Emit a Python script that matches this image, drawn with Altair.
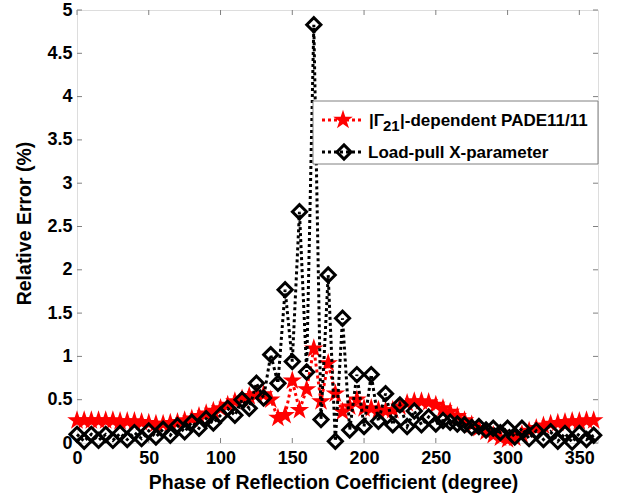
import altair as alt
import pandas as pd

# ---------------- data ----------------
phase = [0, 5, 10, 15, 20, 25, 30, 35, 40, 45, 50, 55, 60, 65, 70, 75, 80, 85, 90, 95,
         100, 105, 110, 115, 120, 125, 130, 135, 140, 145, 150, 155, 160, 165, 170, 175,
         180, 185, 190, 195, 200, 205, 210, 215, 220, 225, 230, 235, 240, 245, 250, 255,
         260, 265, 270, 275, 280, 285, 290, 295, 300, 305, 310, 315, 320, 325, 330, 335,
         340, 345, 350, 355, 360]

pade_err = [0.26, 0.26, 0.26, 0.26, 0.26, 0.26, 0.25, 0.25, 0.25, 0.24, 0.23, 0.22, 0.22,
            0.23, 0.24, 0.26, 0.28, 0.31, 0.34, 0.37, 0.40, 0.44, 0.48, 0.51, 0.54, 0.56,
            0.56, 0.50, 0.29, 0.32, 0.72, 0.38, 0.62, 1.09, 0.48, 0.92, 0.57, 0.36, 0.42,
            0.50, 0.40, 0.40, 0.38, 0.37, 0.38, 0.42, 0.46, 0.48, 0.48, 0.47, 0.44, 0.40,
            0.36, 0.31, 0.26, 0.21, 0.17, 0.13, 0.09, 0.06, 0.04, 0.06, 0.10, 0.14, 0.17,
            0.20, 0.22, 0.23, 0.24, 0.25, 0.25, 0.26, 0.26]

xparam_err = [0.10, 0.02, 0.10, 0.03, 0.10, 0.03, 0.11, 0.04, 0.12, 0.05, 0.14, 0.07, 0.16,
              0.09, 0.20, 0.13, 0.24, 0.17, 0.28, 0.23, 0.32, 0.40, 0.32, 0.50, 0.40, 0.69,
              0.52, 1.02, 0.69, 1.77, 0.94, 2.67, 0.82, 4.83, 0.27, 1.94, 0.02, 1.44, 0.15,
              0.79, 0.19, 0.79, 0.25, 0.57, 0.21, 0.44, 0.19, 0.37, 0.21, 0.30, 0.22, 0.26,
              0.24, 0.22, 0.21, 0.18, 0.19, 0.15, 0.17, 0.12, 0.17, 0.07, 0.17, 0.05, 0.14,
              0.04, 0.13, 0.02, 0.11, 0.01, 0.11, 0.04, 0.09]

x_ticks = [0, 50, 100, 150, 200, 250, 300, 350]
y_ticks = [0, 0.5, 1, 1.5, 2, 2.5, 3, 3.5, 4, 4.5, 5]

series_names = ["-dependent PADE11/11", "Load-pull X-parameter"]

# ---------------- style ----------------
FONT = "Liberation Sans"
GRAY = "#808080"
W, H = 521, 433
STAR = ("M0,-1L0.2245,-0.309L0.9511,-0.309L0.3633,0.118L0.5878,0.809L0,0.382"
        "L-0.5878,0.809L-0.3633,0.118L-0.9511,-0.309L-0.2245,-0.309Z")
STAR_SIZE = 420
DIA_SIZE = 200
DIA_SW = 3

df_pade = pd.DataFrame({"deg": phase, "val": pade_err})
df_xp = pd.DataFrame({"deg": phase, "val": xparam_err})
df_xt = pd.DataFrame({"deg": x_ticks})
df_yt = pd.DataFrame({"val": y_ticks})
one = pd.DataFrame({"k": [0]})

xs = alt.Scale(domain=[0, 363], nice=False, zero=False)
ys = alt.Scale(domain=[0, 5], nice=False, zero=False)

x_axis = alt.Axis(values=x_ticks, title="Phase of Reflection Coefficient (degree)",
                  ticks=False, domain=False, grid=False,
                  labelFont=FONT, labelFontSize=18, labelFontWeight="bold", labelColor="black",
                  labelPadding=20, labelBaseline="alphabetic", labelFlush=False,
                  labelOverlap=False,
                  titleFont=FONT, titleFontSize=19.5, titleFontWeight="bold", titleColor="black",
                  titleX=256, titleY=45, titleAlign="center", titleBaseline="alphabetic")
y_axis = alt.Axis(values=y_ticks, title="Relative Error (%)", format="~g",
                  ticks=False, domain=False, grid=False,
                  labelFont=FONT, labelFontSize=18, labelFontWeight="bold", labelColor="black",
                  labelPadding=5, labelFlush=False, labelOverlap=False,
                  titleFont=FONT, titleFontSize=19.5, titleFontWeight="bold", titleColor="black",
                  titleX=-53, titleY=213, titleAlign="center", titleBaseline="middle",
                  titleAngle=270)

X = alt.X("deg:Q", scale=xs, axis=x_axis)
Y = alt.Y("val:Q", scale=ys, axis=y_axis)

# inward ticks on all four sides
tick_b = alt.Chart(df_xt).mark_rule(color=GRAY, strokeWidth=1).encode(
    x=X, y=alt.value(H), y2=alt.value(H - 5))
tick_t = alt.Chart(df_xt).mark_rule(color=GRAY, strokeWidth=1).encode(
    x=X, y=alt.value(0), y2=alt.value(5))
tick_l = alt.Chart(df_yt).mark_rule(color=GRAY, strokeWidth=1).encode(
    y=Y, x=alt.value(0), x2=alt.value(5))
tick_r = alt.Chart(df_yt).mark_rule(color=GRAY, strokeWidth=1).encode(
    y=Y, x=alt.value(W), x2=alt.value(W - 5))

pade_line = alt.Chart(df_pade).mark_line(color="#ff0000", strokeWidth=3,
                                         strokeDash=[3, 3]).encode(x=X, y=Y)
pade_pts = alt.Chart(df_pade).mark_point(shape=STAR, filled=True, color="#ff0000",
                                         size=STAR_SIZE, opacity=1).encode(x=X, y=Y)
xp_line = alt.Chart(df_xp).mark_line(color="#000000", strokeWidth=3,
                                     strokeDash=[3, 3]).encode(x=X, y=Y)
xp_pts = alt.Chart(df_xp).mark_point(shape="diamond", filled=False, color="#000000",
                                     strokeWidth=DIA_SW, size=DIA_SIZE, opacity=1).encode(x=X, y=Y)

# legend (drawn manually, on top)
leg_box = alt.Chart(one).mark_rect(fill="white", stroke=GRAY, strokeWidth=1).encode(
    x=alt.value(236), x2=alt.value(W), y=alt.value(91), y2=alt.value(154))
leg_l1 = alt.Chart(one).mark_rule(color="#ff0000", strokeWidth=3, strokeDash=[3, 3]).encode(
    x=alt.value(245), x2=alt.value(287), y=alt.value(110))
leg_s1 = alt.Chart(one).mark_point(shape=STAR, filled=True, color="#ff0000", size=STAR_SIZE,
                                   opacity=1).encode(x=alt.value(266), y=alt.value(110))
leg_l2 = alt.Chart(one).mark_rule(color="#000000", strokeWidth=3, strokeDash=[3, 3]).encode(
    x=alt.value(245), x2=alt.value(287), y=alt.value(142))
leg_s2 = alt.Chart(one).mark_point(shape="diamond", filled=False, color="#000000",
                                   strokeWidth=DIA_SW, size=DIA_SIZE, opacity=1).encode(
    x=alt.value(267), y=alt.value(142))

def txt(s, x, y, size=17):
    return alt.Chart(one).mark_text(align="left", baseline="alphabetic", font=FONT,
                                    fontSize=size, fontWeight="bold", color="black").encode(
        x=alt.value(x), y=alt.value(y), text=alt.value(s))

leg_t1a = txt("|Γ", 292, 116)
leg_t1b = txt("21", 306, 121, 15)
leg_t1c = txt("|" + series_names[0], 323, 116)
leg_t2 = txt(series_names[1], 291, 148)

chart = alt.layer(
    tick_b, tick_t, tick_l, tick_r,
    pade_line, pade_pts, xp_line, xp_pts,
    leg_box, leg_l1, leg_s1, leg_l2, leg_s2, leg_t1a, leg_t1b, leg_t1c, leg_t2
).properties(
    width=W, height=H,
    autosize=alt.AutoSizeParams(type="none"),
    padding={"left": 77, "top": 10, "right": 21, "bottom": 52},
    background="white",
).configure_view(stroke=GRAY, strokeWidth=1).configure(font=FONT)

chart.save("out.html", embed_options={"renderer": "svg", "actions": False})
